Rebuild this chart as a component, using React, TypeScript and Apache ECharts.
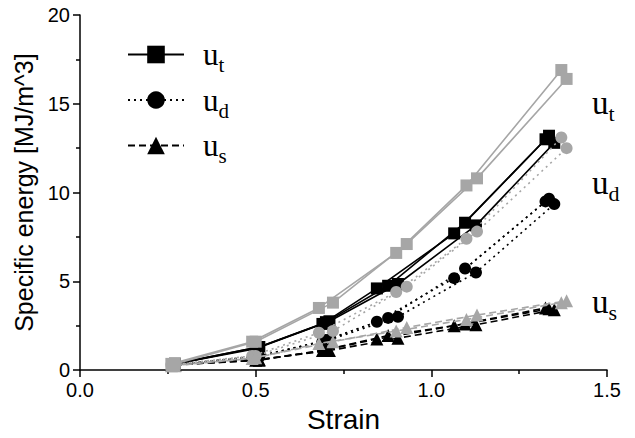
import React, { useEffect, useRef } from "react";
import * as echarts from "echarts";

// Strain values per specimen
const xB1 = [0.27, 0.5, 0.69, 0.845, 1.065, 1.325];
const xB2 = [0.27, 0.51, 0.7, 0.877, 1.096, 1.335];
const xB3 = [0.27, 0.51, 0.71, 0.905, 1.127, 1.35];
const xG1 = [0.26, 0.49, 0.68, 0.9, 1.1, 1.37];
const xG2 = [0.27, 0.5, 0.72, 0.93, 1.13, 1.385];

// Black specimens
const utB1 = [0.35, 1.2, 2.6, 4.6, 7.7, 13.0];
const utB2 = [0.35, 1.3, 2.7, 4.75, 8.3, 13.2];
const utB3 = [0.35, 1.3, 2.75, 4.85, 8.15, 12.8];
const udB1 = [0.3, 0.75, 1.6, 2.72, 5.18, 9.5];
const udB2 = [0.3, 0.75, 1.7, 2.94, 5.72, 9.65];
const udB3 = [0.3, 0.8, 1.7, 3.0, 5.5, 9.35];
const usB1 = [0.3, 0.55, 1.1, 1.75, 2.5, 3.5];
const usB2 = [0.3, 0.55, 1.15, 1.95, 2.6, 3.45];
const usB3 = [0.3, 0.6, 1.1, 1.8, 2.55, 3.4];

// Gray specimens
const utG1 = [0.35, 1.6, 3.5, 6.6, 10.4, 16.9];
const utG2 = [0.35, 1.6, 3.8, 7.1, 10.8, 16.4];
const udG1 = [0.3, 0.8, 2.1, 4.4, 7.4, 13.1];
const udG2 = [0.3, 0.8, 2.2, 4.7, 7.8, 12.5];
const usG1 = [0.25, 0.65, 1.5, 2.2, 2.85, 3.8];
const usG2 = [0.25, 0.7, 1.6, 2.4, 3.1, 3.9];

const legendNames = ["ut", "ud", "us"];
const sideLabels = ["t", "d", "s"];

const BLACK = "#000000";
const GRAY = "#a6a6a6";

const kinds: Record<string, { symbol: string; size: number; dash: any }> = {
  t: { symbol: "rect", size: 12, dash: "solid" },
  d: { symbol: "circle", size: 12, dash: [2, 4] },
  s: { symbol: "triangle", size: 13, dash: [7, 4] },
};

function mk(name: string, kind: string, xs: number[], ys: number[], color: string) {
  const k = kinds[kind];
  return {
    name,
    type: "line",
    data: xs.map((x, i) => [x, ys[i]]),
    symbol: k.symbol,
    symbolSize: k.size,
    showSymbol: true,
    lineStyle: { color, width: 1.6, type: k.dash },
    itemStyle: { color, borderWidth: 0 },
    z: color === GRAY ? 3 : 2,
  };
}

const richSide = {
  u: { fontFamily: "Liberation Serif", fontSize: 33, color: "#000", lineHeight: 32 },
  s: { fontFamily: "Liberation Serif", fontSize: 22, color: "#000", lineHeight: 32, verticalAlign: "bottom", padding: [0, 0, -6, 0] },
};
const richLegend = {
  u: { fontFamily: "Liberation Serif", fontSize: 31, color: "#000", lineHeight: 30, padding: [0, 0, 0, 14] },
  s: { fontFamily: "Liberation Serif", fontSize: 21, color: "#000", lineHeight: 30, verticalAlign: "bottom", padding: [0, 0, -6, 0] },
};

export default function App() {
  const ref = useRef<HTMLDivElement>(null);
  useEffect(() => {
    document.body.style.margin = "0";
    if (!ref.current) return;
    const chart = echarts.init(ref.current, null, { renderer: "svg" });
    const series = [
      mk("ud", "d", xB1, udB1, BLACK),
      mk("ud2", "d", xB2, udB2, BLACK),
      mk("ud3", "d", xB3, udB3, BLACK),
      mk("us", "s", xB1, usB1, BLACK),
      mk("us2", "s", xB2, usB2, BLACK),
      mk("us3", "s", xB3, usB3, BLACK),
      mk("ut", "t", xB1, utB1, BLACK),
      mk("ut2", "t", xB2, utB2, BLACK),
      mk("ut3", "t", xB3, utB3, BLACK),
      mk("gud1", "d", xG1, udG1, GRAY),
      mk("gud2", "d", xG2, udG2, GRAY),
      mk("gus1", "s", xG1, usG1, GRAY),
      mk("gus2", "s", xG2, usG2, GRAY),
      mk("gut1", "t", xG1, utG1, GRAY),
      mk("gut2", "t", xG2, utG2, GRAY),
    ];
    const sideY = [86, 166, 285];
    chart.setOption({
      animation: false,
      backgroundColor: "#fff",
      grid: { left: 80, right: 28, top: 15, bottom: 56, containLabel: false },
      xAxis: {
        type: "value",
        min: 0,
        max: 1.5,
        interval: 0.5,
        name: "Strain",
        nameLocation: "middle",
        nameGap: 27,
        nameTextStyle: { fontFamily: "Liberation Sans", fontSize: 28, color: "#000" },
        axisLine: { lineStyle: { color: "#000", width: 1.5 } },
        axisTick: { show: true, length: 7, lineStyle: { color: "#000", width: 1.5 } },
        minorTick: { show: true, splitNumber: 2, length: 4, lineStyle: { color: "#000", width: 1.5 } },
        axisLabel: { fontFamily: "Liberation Sans", fontSize: 20, color: "#000", margin: 10, formatter: (v: number) => v.toFixed(1) },
        splitLine: { show: false },
      },
      yAxis: {
        type: "value",
        min: 0,
        max: 20,
        interval: 5,
        name: "Specific energy [MJ/m^3]",
        nameLocation: "middle",
        nameGap: 41,
        nameTextStyle: { fontFamily: "Liberation Sans", fontSize: 25, color: "#000" },
        axisLine: { show: true, lineStyle: { color: "#000", width: 1.5 } },
        axisTick: { show: true, length: 7, lineStyle: { color: "#000", width: 1.5 } },
        minorTick: { show: true, splitNumber: 2, length: 4, lineStyle: { color: "#000", width: 1.5 } },
        axisLabel: { fontFamily: "Liberation Sans", fontSize: 20, color: "#000", margin: 10 },
        splitLine: { show: false },
      },
      legend: {
        orient: "vertical",
        left: 122,
        top: 34,
        itemWidth: 56,
        itemHeight: 22,
        itemGap: 9,
        data: legendNames,
        selectedMode: false,
        formatter: (n: string) => `{u|u}{s|${n[1]}}`,
        textStyle: { rich: richLegend },
      },
      graphic: sideLabels.map((s, i) => ({
        type: "text",
        left: 592,
        top: sideY[i],
        style: { text: `{u|u}{s|${s}}`, rich: richSide },
      })),
      series,
    });
    return () => chart.dispose();
  }, []);
  return <div ref={ref} style={{ width: 635, height: 438 }} />;
}
